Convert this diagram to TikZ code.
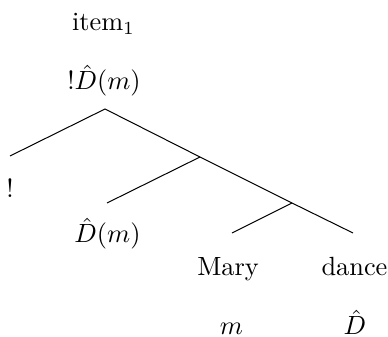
\documentclass[tikz,border=0pt]{standalone}
\begin{document}
\begin{tikzpicture}[x=0.38pt,y=-0.38pt,
  lbl/.style={anchor=base,inner sep=0pt,outer sep=0pt},
  branch/.style={draw=black,line width=0.38pt}]
\useasboundingbox (0,0) rectangle (388,337);
% labels
\node[lbl] (item) at (103.5,31) {item$_1$};
\node[lbl] (root) at (104,90) {$!\hat{D}(m)$};
\node[lbl] (bang) at (10,198) {!};
\node[lbl] (dm) at (107.5,243) {$\hat{D}(m)$};
\node[lbl] (mary) at (228,276) {Mary};
\node[lbl] (dance) at (354.5,276) {dance};
\node[lbl] (m) at (231.5,335) {$m$};
\node[lbl] (dhat) at (355,335) {$\hat{D}$};
% tree joints
\coordinate (top) at (105,109);
\coordinate (lend) at (10,156);
\coordinate (j1) at (200,157);
\coordinate (dmend) at (107,203);
\coordinate (j2) at (292,203);
\coordinate (maryend) at (232,233);
\coordinate (danceend) at (353,233);
\draw[branch] (lend) -- (top) -- (j1) -- (j2) -- (danceend);
\draw[branch] (j1) -- (dmend);
\draw[branch] (j2) -- (maryend);
\end{tikzpicture}
\end{document}
